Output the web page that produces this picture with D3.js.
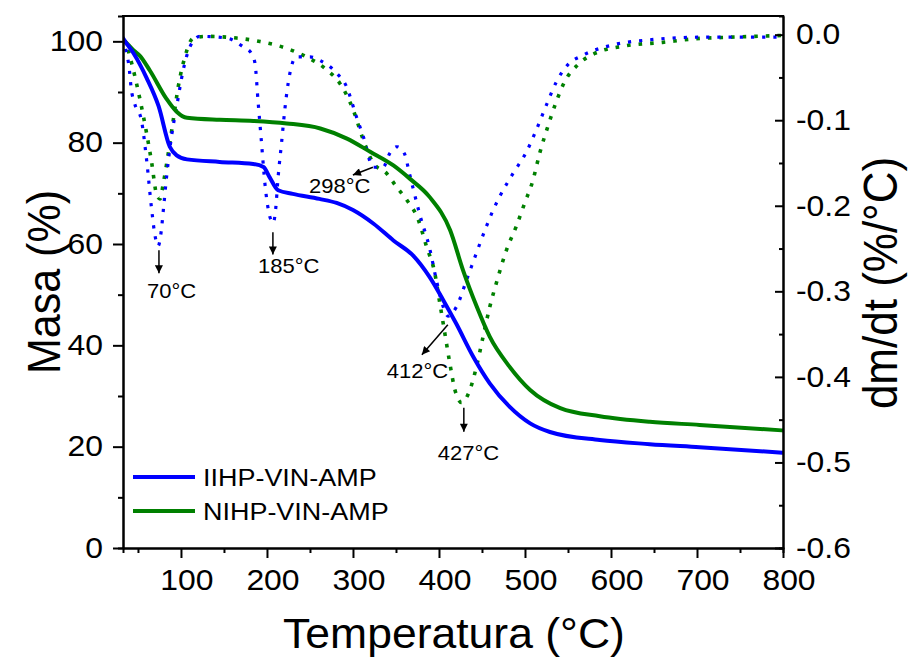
<!DOCTYPE html>
<html>
<head>
<meta charset="utf-8">
<script src="https://cdn.jsdelivr.net/npm/d3@7"></script>
<style>
  html, body { margin: 0; padding: 0; background: #fff; }
  svg { display: block; font-family: "Liberation Sans", Arial, sans-serif; }
</style>
</head>
<body>
<svg id="chart" width="911" height="662"></svg>
<script>
// TG curves (mass %, left axis)
const tempMassIIHP = [32, 35, 45, 60, 74, 87, 95, 107, 145, 184, 196, 203, 213, 230, 261, 281, 300, 324, 347, 370, 389, 405, 420, 440, 459, 482, 506, 529, 587, 645, 703, 800];
const massIIHP     = [100.8, 100.0, 97.6, 92.8, 87.2, 79.2, 77.5, 76.7, 76.2, 75.8, 75.2, 73.2, 70.6, 69.9, 68.9, 68.1, 66.7, 64.0, 60.7, 57.7, 53.5, 48.9, 44.3, 37.7, 32.5, 27.9, 24.6, 22.9, 21.3, 20.5, 19.9, 18.8];

const tempMassNIHP = [32, 35, 45, 52, 64, 83, 95, 107, 145, 184, 223, 262, 293, 320, 347, 366, 389, 413, 428, 444, 459, 482, 506, 541, 587, 645, 703, 800];
const massNIHP     = [100.5, 100.0, 98.2, 97.2, 94.2, 88.7, 86.1, 84.9, 84.5, 84.3, 83.8, 82.8, 80.8, 78.2, 75.5, 72.9, 69.3, 62.7, 54.8, 47.6, 41.7, 35.8, 31.2, 27.6, 26.0, 24.9, 24.3, 23.2];

// DTG curves (dm/dt, right axis)
const tempDtgIIHP = [32.6, 36, 40, 42, 46, 54, 60, 66, 70, 73.5, 77, 79.5, 83.3, 89, 95, 102.7, 110.5, 122, 153, 172, 182, 186, 189.8, 193.7, 197.6, 203.4, 207.3, 210, 213, 216.9, 220.7, 224.6, 228.5, 234, 250, 261.5, 281, 292.6, 304, 312, 323.6, 335, 342.6, 351, 359.8, 365.6, 369.5, 377.6, 389.2, 397, 404.9, 410.6, 420.4, 432, 443.6, 455.2, 463, 470.7, 486.2, 501.7, 513.3, 525, 536.6, 550, 567.5, 602, 645, 703, 800];
const dtgIIHP     = [-0.004, -0.018, -0.041, -0.062, -0.080, -0.100, -0.146, -0.205, -0.236, -0.247, -0.230, -0.205, -0.166, -0.119, -0.084, -0.041, -0.014, -0.002, -0.004, -0.014, -0.022, -0.033, -0.080, -0.127, -0.174, -0.213, -0.220, -0.205, -0.166, -0.127, -0.088, -0.057, -0.037, -0.026, -0.026, -0.030, -0.045, -0.061, -0.096, -0.119, -0.155, -0.155, -0.139, -0.131, -0.139, -0.162, -0.178, -0.210, -0.250, -0.287, -0.318, -0.329, -0.318, -0.287, -0.255, -0.224, -0.205, -0.189, -0.162, -0.137, -0.111, -0.082, -0.055, -0.035, -0.024, -0.012, -0.006, -0.003, -0.003];

const tempDtgNIHP = [32.6, 35, 40.7, 46.5, 52.4, 60, 66, 71.7, 75.6, 79.4, 85.2, 91, 96.8, 104.6, 114.3, 130, 164.7, 191.8, 222.8, 246, 269.3, 284.8, 300.3, 312, 323.5, 339, 350.7, 362.3, 375.8, 385.6, 395, 401, 406.8, 412.6, 418.5, 426.2, 436, 443.6, 451.3, 459.1, 466.8, 478.4, 489.9, 499.6, 509.3, 517, 526.7, 536.5, 546.1, 561.6, 581, 617.4, 660, 695, 738, 800];
const dtgNIHP     = [-0.006, -0.008, -0.026, -0.049, -0.076, -0.115, -0.150, -0.187, -0.192, -0.174, -0.139, -0.100, -0.061, -0.026, -0.004, -0.002, -0.004, -0.008, -0.016, -0.026, -0.041, -0.057, -0.088, -0.123, -0.150, -0.162, -0.178, -0.193, -0.216, -0.248, -0.278, -0.314, -0.349, -0.384, -0.415, -0.430, -0.415, -0.388, -0.353, -0.318, -0.290, -0.252, -0.224, -0.197, -0.170, -0.139, -0.107, -0.078, -0.055, -0.035, -0.022, -0.013, -0.009, -0.005, -0.003, -0.001];

// Axis ticks
const xTicks = [100, 200, 300, 400, 500, 600, 700, 800];
const xMinorTicks = [50, 150, 250, 350, 450, 550, 650, 750];
const massTicks = [0, 20, 40, 60, 80, 100];
const massMinorTicks = [10, 30, 50, 70, 90];
const dtgTicks = [0.0, -0.1, -0.2, -0.3, -0.4, -0.5, -0.6];
const dtgMinorTicks = [-0.05, -0.15, -0.25, -0.35, -0.45, -0.55];

// Peak annotations (temperature, dm/dt): arrow tail, arrow tip, label anchor
const peakLabels = ["70°C", "185°C", "298°C", "412°C", "427°C"];
const peakArrowFrom = [[74.4, -0.252], [206.9, -0.231], [323.2, -0.155], [410.3, -0.339], [428.9, -0.436]];
const peakArrowTo   = [[74.4, -0.279], [206.9, -0.257], [299.9, -0.164], [380.1, -0.374], [428.9, -0.464]];
const peakLabelAt   = [[60.5, -0.308], [189.5, -0.279], [248.8, -0.185], [339.4, -0.401], [398.7, -0.497]];

const seriesNames = ["IIHP-VIN-AMP", "NIHP-VIN-AMP"];
const seriesColors = ["#0000ff", "#008000"];

const svg = d3.select("#chart");
const padL = 123, padR = 783, padT = 16, padB = 548;
const stretch = 1.1; // slightly wide glyphs

const x = d3.scaleLinear().domain([32.6, 800]).range([padL, padR]);
const yMass = d3.scaleLinear().domain([0, 105]).range([padB, padT]);
const yDtg = d3.scaleLinear().domain([-0.6, 0.0218]).range([padB, padT]);

const zipPts = (xs, ys) => xs.map((t, i) => [t, ys[i]]);

const defs = svg.append("defs");
defs.append("clipPath").attr("id", "clip")
  .append("rect").attr("x", padL).attr("y", padT).attr("width", padR - padL).attr("height", padB - padT);

const massLine = d3.line().x(d => x(d[0])).y(d => yMass(d[1])).curve(d3.curveMonotoneX);
const dtgLine = d3.line().x(d => x(d[0])).y(d => yDtg(d[1])).curve(d3.curveMonotoneX);

const curves = svg.append("g").attr("clip-path", "url(#clip)");

// DTG dotted curves
curves.append("path").datum(zipPts(tempDtgNIHP, dtgNIHP))
  .attr("d", dtgLine).attr("fill", "none").attr("stroke", seriesColors[1])
  .attr("stroke-width", 3.6).attr("stroke-dasharray", "3.6,8");
curves.append("path").datum(zipPts(tempDtgIIHP, dtgIIHP))
  .attr("d", dtgLine).attr("fill", "none").attr("stroke", seriesColors[0])
  .attr("stroke-width", 3.2).attr("stroke-dasharray", "3.2,8");

// TG solid curves
curves.append("path").datum(zipPts(tempMassNIHP, massNIHP))
  .attr("d", massLine).attr("fill", "none").attr("stroke", seriesColors[1])
  .attr("stroke-width", 4).attr("stroke-linejoin", "round");
curves.append("path").datum(zipPts(tempMassIIHP, massIIHP))
  .attr("d", massLine).attr("fill", "none").attr("stroke", seriesColors[0])
  .attr("stroke-width", 4).attr("stroke-linejoin", "round");

// Widen a text element horizontally around its own anchor x
function widen(sel, s) {
  sel.each(function () {
    const t = d3.select(this);
    const tx = +t.attr("x") || 0;
    t.attr("transform", `translate(${tx * (1 - s)},0) scale(${s},1)`);
  });
}

// Axes
const tickFont = 29;
const styleAxis = g => {
  g.select(".domain").attr("stroke", "#000").attr("stroke-width", 2);
  g.selectAll(".tick line").attr("stroke", "#000").attr("stroke-width", 2);
  g.selectAll(".tick text").attr("font-size", tickFont).attr("fill", "#000")
    .attr("font-family", "'Liberation Sans', Arial, sans-serif")
    .call(widen, stretch);
};

svg.append("g").attr("transform", `translate(0,${padB})`)
  .call(d3.axisBottom(x).tickValues(xMinorTicks).tickSize(5).tickFormat(""))
  .call(styleAxis);
const xAxisG = svg.append("g").attr("transform", `translate(0,${padB})`)
  .call(d3.axisBottom(x).tickValues(xTicks).tickSize(10).tickPadding(11).tickSizeOuter(0).tickFormat(d3.format("d")))
  .call(styleAxis);
xAxisG.selectAll(".tick text").attr("dx", 5);

svg.append("g").attr("transform", `translate(${padL},0)`)
  .call(d3.axisLeft(yMass).tickValues(massMinorTicks).tickSize(5).tickFormat(""))
  .call(styleAxis);
svg.append("g").attr("transform", `translate(${padL},0)`)
  .call(d3.axisLeft(yMass).tickValues(massTicks).tickSize(10).tickPadding(10).tickSizeOuter(0).tickFormat(d3.format("d")))
  .call(styleAxis);

svg.append("g").attr("transform", `translate(${padR},0)`)
  .call(d3.axisRight(yDtg).tickValues(dtgMinorTicks).tickSize(-4).tickFormat(""))
  .call(styleAxis);
svg.append("g").attr("transform", `translate(${padR},0)`)
  .call(d3.axisRight(yDtg).tickValues(dtgTicks).tickSize(-8).tickPadding(13).tickSizeOuter(0).tickFormat(v => v.toFixed(1)))
  .call(styleAxis);

// Top frame line
svg.append("line").attr("x1", padL - 1).attr("x2", padR + 1).attr("y1", padT).attr("y2", padT)
  .attr("stroke", "#000").attr("stroke-width", 2);

// Axis titles
svg.append("text").attr("x", (padL + padR) / 2 + 1).attr("y", 648)
  .attr("text-anchor", "middle").attr("font-size", 42).text("Temperatura (°C)")
  .call(widen, 1.06);
svg.append("text").attr("transform", `translate(60,282) scale(1.08,1) rotate(-90)`)
  .attr("text-anchor", "middle").attr("font-size", 43).text("Masa (%)");
svg.append("text").attr("transform", `translate(897,283) scale(1.08,1) rotate(-90)`)
  .attr("text-anchor", "middle").attr("font-size", 44).text("dm/dt (%/°C)");

// Peak annotations
defs.append("marker").attr("id", "arrowhead").attr("viewBox", "0 0 10 10")
  .attr("refX", 10).attr("refY", 5).attr("markerWidth", 10).attr("markerHeight", 8)
  .attr("markerUnits", "userSpaceOnUse").attr("orient", "auto")
  .append("path").attr("d", "M0,0 L10,5 L0,10 Z").attr("fill", "#000");

const ann = svg.append("g");
peakLabels.forEach((lab, i) => {
  ann.append("line")
    .attr("x1", x(peakArrowFrom[i][0])).attr("y1", yDtg(peakArrowFrom[i][1]))
    .attr("x2", x(peakArrowTo[i][0])).attr("y2", yDtg(peakArrowTo[i][1]))
    .attr("stroke", "#000").attr("stroke-width", 1.5).attr("marker-end", "url(#arrowhead)");
  ann.append("text").attr("x", x(peakLabelAt[i][0])).attr("y", yDtg(peakLabelAt[i][1]))
    .attr("font-size", 20).attr("fill", "#000").text(lab)
    .call(widen, stretch);
});

// Legend
const legend = svg.append("g");
seriesNames.forEach((name, i) => {
  const ly = 477 + i * 34;
  legend.append("line").attr("x1", 133).attr("x2", 195).attr("y1", ly).attr("y2", ly)
    .attr("stroke", seriesColors[i]).attr("stroke-width", 4);
  legend.append("text").attr("x", 203).attr("y", ly + 9).attr("font-size", 24.5).text(name)
    .call(widen, stretch);
});
</script>
</body>
</html>
